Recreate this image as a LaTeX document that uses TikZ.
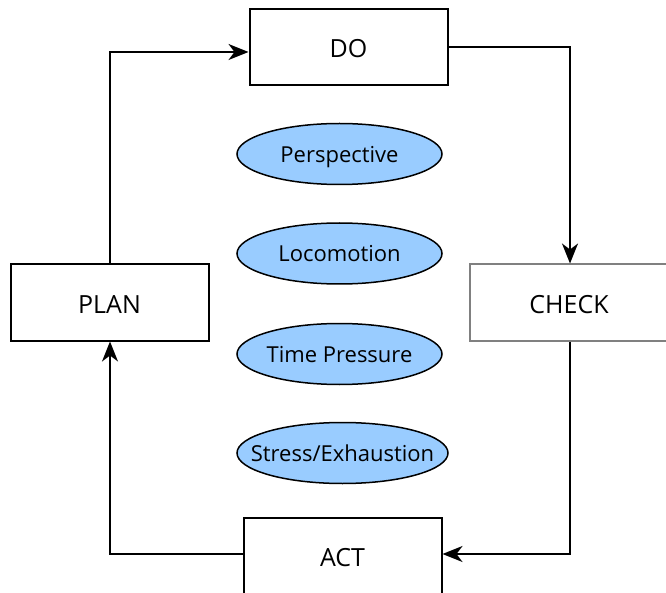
\documentclass[tikz,border=0pt]{standalone}
\usepackage{fontspec}
\setmainfont{Open Sans}
\usetikzlibrary{arrows.meta,shapes.geometric}
\definecolor{ellfill}{HTML}{99CCFF}
\newcommand{\zw}[1]{\makebox[0pt]{#1}}
\begin{document}
\begin{tikzpicture}[x=1pt,y=-1pt,
  box/.style={draw=black,line width=2pt,fill=white,minimum width=198pt,minimum height=76pt,inner sep=0pt,text height=21pt,text depth=0pt,font=\fontsize{25}{28}\selectfont},
  graybox/.style={box,draw={rgb,255:red,128;green,128;blue,128}},
  ell/.style={ellipse,draw=black,line width=1.5pt,fill=ellfill,minimum height=61pt,inner sep=0pt,text height=17pt,text depth=0pt,font=\fontsize{22}{26}\selectfont},
  conn/.style={line width=2pt,-{Stealth[length=20pt,width=16pt,inset=6pt]}}]
\useasboundingbox (0,0) rectangle (666,593);
\node[box] (do) at (348.5,47) {DO};
\node[graybox] (check) at (569,302.5) {CHECK};
\node[box] (plan) at (109.5,302.5) {PLAN};
\node[box] (act) at (342.5,555.5) {ACT};
\node[ell,minimum width=205pt] (e1) at (339.5,154) {\zw{Perspective}};
\node[ell,minimum width=205pt] (e2) at (339.5,253.5) {\zw{Locomotion}};
\node[ell,minimum width=205pt] (e3) at (339.5,354) {\zw{Time Pressure}};
\node[ell,minimum width=211pt] (e4) at (342.5,453) {\zw{Stress/Exhaustion}};
\coordinate (c1) at (110,52);
\coordinate (c2) at (570,47);
\coordinate (c3) at (570,554);
\coordinate (c4) at (110,554);
\draw[conn] (plan.north -| c1) -- (c1) -- (do.west |- c1);
\draw[conn] (do.east |- c2) -- (c2) -- (check.north -| c2);
\draw[conn] (check.south -| c3) -- (c3) -- (act.east |- c3);
\draw[conn] (act.west |- c4) -- (c4) -- (plan.south -| c4);
\end{tikzpicture}
\end{document}
